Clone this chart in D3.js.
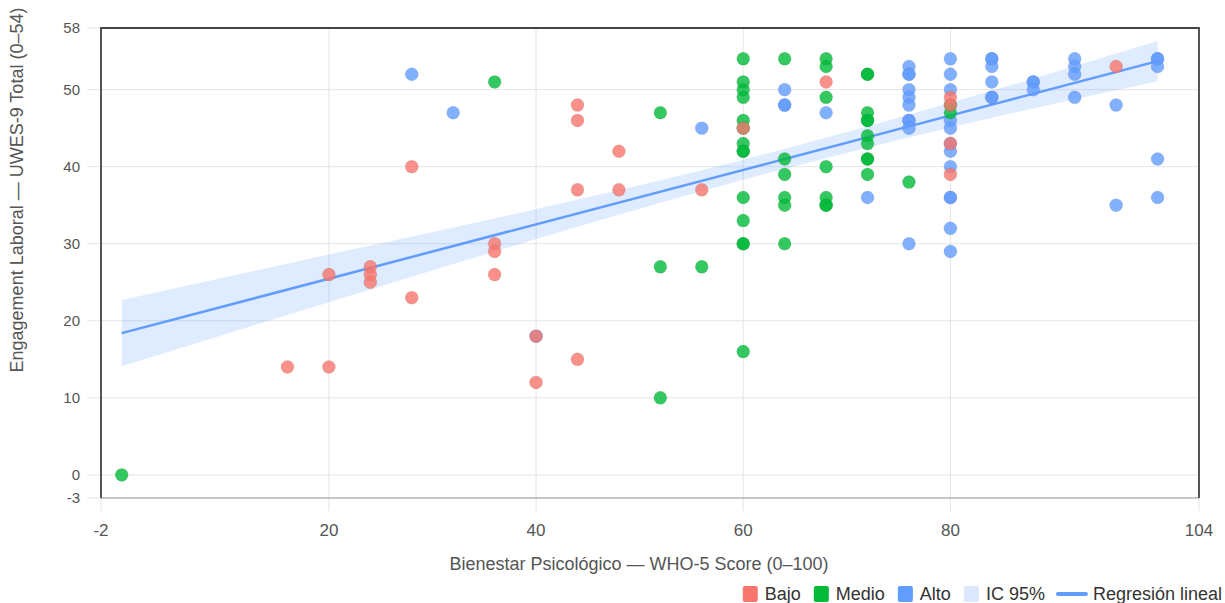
<!DOCTYPE html>
<html>
<head>
<meta charset="utf-8">
<script src="https://cdn.jsdelivr.net/npm/d3@7"></script>
<style>
  body { margin: 0; background: #fff; font-family: "Liberation Sans", Arial, sans-serif; }
</style>
</head>
<body>
<svg id="chart" width="1225" height="603"></svg>
<script>
// [WHO-5, UWES-9] per group
const bajo = [
  [16,14],[20,14],[20,26],[24,27],[24,26],[24,25],[28,40],[28,23],
  [36,30],[36,29],[36,26],[40,18],[40,12],[44,48],[44,46],[44,37],[44,15],
  [48,42],[48,37],[56,37],[60,45],[68,51],[80,49],[80,48],[80,43],[80,39],[96,53]
]
const medio = [
  [0,0],[36,51],[52,47],[52,27],[52,10],[56,27],
  [60,54],[60,51],[60,50],[60,49],[60,46],[60,45],[60,43],[60,42],[60,42],[60,36],[60,33],[60,30],[60,30],[60,16],
  [64,54],[64,41],[64,39],[64,36],[64,35],[64,30],
  [68,54],[68,53],[68,49],[68,40],[68,36],[68,35],[68,35],
  [72,52],[72,52],[72,47],[72,46],[72,46],[72,44],[72,43],[72,41],[72,41],[72,39],
  [76,38],[80,48],[80,47]
]
const alto = [
  [28,52],[32,47],[40,18],[56,45],[64,50],[64,48],[64,48],[68,47],[72,36],
  [76,53],[76,52],[76,52],[76,50],[76,49],[76,48],[76,46],[76,46],[76,45],[76,30],
  [80,54],[80,52],[80,50],[80,46],[80,45],[80,43],[80,42],[80,40],[80,36],[80,36],[80,32],[80,29],
  [84,54],[84,54],[84,53],[84,51],[84,49],[84,49],[88,51],[88,51],[88,50],
  [92,54],[92,53],[92,52],[92,49],[96,48],[96,35],[100,54],[100,54],[100,53],[100,41],[100,36]
]

// regression line and 95% band
const fitX = [0, 100]
const fitY = [18.4, 53.7]
const ciX = [0, 20, 40, 60, 80, 100]
const ciLow = [14.1, 22.4, 30.6, 38.3, 45.1, 51.1]
const ciHigh = [22.7, 28.6, 34.5, 40.9, 48.3, 56.3]

const xTicks = [-2, 20, 40, 60, 80, 104]
const yTicks = [-3, 0, 10, 20, 30, 40, 50, 58]

const groups = [
  { name: "Alto", data: alto, color: "#619CFF" },
  { name: "Medio", data: medio, color: "#00BA38" },
  { name: "Bajo", data: bajo, color: "#F8766D" }
]

const svg = d3.select("#chart")
const pl = 101, pr = 1199, pt = 28, pb = 498

const x = d3.scaleLinear().domain([-2, 104]).range([pl, pr])
const y = d3.scaleLinear().domain([-3, 58]).range([pb, pt])

// grid
svg.append("g").selectAll("line")
  .data(xTicks)
  .join("line")
    .attr("x1", d => x(d)).attr("x2", d => x(d))
    .attr("y1", pt).attr("y2", pb + 13)
    .attr("stroke", "#e5e5e5")

svg.append("g").selectAll("line")
  .data(yTicks)
  .join("line")
    .attr("x1", pl - 14).attr("x2", pr)
    .attr("y1", d => y(d)).attr("y2", d => y(d))
    .attr("stroke", "#e5e5e5")

// tick labels
svg.append("g").selectAll("text")
  .data(xTicks)
  .join("text")
    .attr("x", d => x(d))
    .attr("y", 536)
    .attr("text-anchor", "middle")
    .attr("font-size", 17)
    .attr("fill", "#555")
    .text(d => d)

svg.append("g").selectAll("text")
  .data(yTicks)
  .join("text")
    .attr("x", 80)
    .attr("y", d => y(d))
    .attr("dy", "0.35em")
    .attr("text-anchor", "end")
    .attr("font-size", 15)
    .attr("fill", "#555")
    .text(d => d)

// band + fit
const band = ciX.map((d, i) => ({ x: d, lo: ciLow[i], hi: ciHigh[i] }))
svg.append("path")
  .datum(band)
  .attr("fill", "#619CFF")
  .attr("fill-opacity", 0.2)
  .attr("d", d3.area().curve(d3.curveMonotoneX)
    .x(d => x(d.x)).y0(d => y(d.lo)).y1(d => y(d.hi)))

svg.append("path")
  .datum(fitX.map((d, i) => [d, fitY[i]]))
  .attr("fill", "none")
  .attr("stroke", "#619CFF")
  .attr("stroke-width", 2.5)
  .attr("d", d3.line().x(d => x(d[0])).y(d => y(d[1])))

// points
groups.forEach(g => {
  svg.append("g").selectAll("circle")
    .data(g.data)
    .join("circle")
      .attr("cx", d => x(d[0]))
      .attr("cy", d => y(d[1]))
      .attr("r", 6.5)
      .attr("fill", g.color)
      .attr("fill-opacity", 0.8)
      .attr("stroke", "rgba(90,90,90,0.15)")
      .attr("stroke-width", 0.8)
})

// frame
svg.append("line").attr("x1", pl).attr("x2", pr).attr("y1", pb).attr("y2", pb)
  .attr("stroke", "#999").attr("stroke-width", 1.2)
svg.append("path")
  .attr("d", `M${pl},${pb}V${pt}H${pr}V${pb}`)
  .attr("fill", "none").attr("stroke", "#444").attr("stroke-width", 1.8)

// axis titles
svg.append("text")
  .attr("x", 639).attr("y", 570)
  .attr("text-anchor", "middle")
  .attr("font-size", 18)
  .attr("fill", "#555")
  .text("Bienestar Psicológico — WHO-5 Score (0–100)")

svg.append("text")
  .attr("transform", "translate(23,190) rotate(-90)")
  .attr("text-anchor", "middle")
  .attr("font-size", 18)
  .attr("fill", "#555")
  .text("Engagement Laboral — UWES-9 Total (0–54)")

// legend, right aligned
const legendItems = [
  { name: "Bajo", color: "#F8766D", kind: "box" },
  { name: "Medio", color: "#00BA38", kind: "box" },
  { name: "Alto", color: "#619CFF", kind: "box" },
  { name: "IC 95%", color: "#DCE8FD", kind: "box" },
  { name: "Regresión lineal", color: "#619CFF", kind: "line" }
]
const legend = svg.append("g")
let lx = 0
legendItems.forEach(it => {
  const g = legend.append("g").attr("transform", `translate(${lx},0)`)
  const w = it.kind === "line" ? 28 : 15
  if (it.kind === "line") {
    g.append("line").attr("x1", 0).attr("x2", w).attr("y1", 0).attr("y2", 0)
      .attr("stroke", it.color).attr("stroke-width", 4).attr("stroke-linecap", "round")
  } else {
    g.append("rect").attr("x", 0).attr("y", -8).attr("width", w).attr("height", 16)
      .attr("rx", 2).attr("fill", it.color)
  }
  const t = g.append("text").attr("x", w + 7).attr("dy", "0.35em")
    .attr("font-size", 18).attr("fill", "#333").text(it.name)
  lx += w + 7 + t.node().getComputedTextLength() + 13
})
legend.attr("transform", `translate(${1222 - (lx - 13)},594)`)
</script>
</body>
</html>
